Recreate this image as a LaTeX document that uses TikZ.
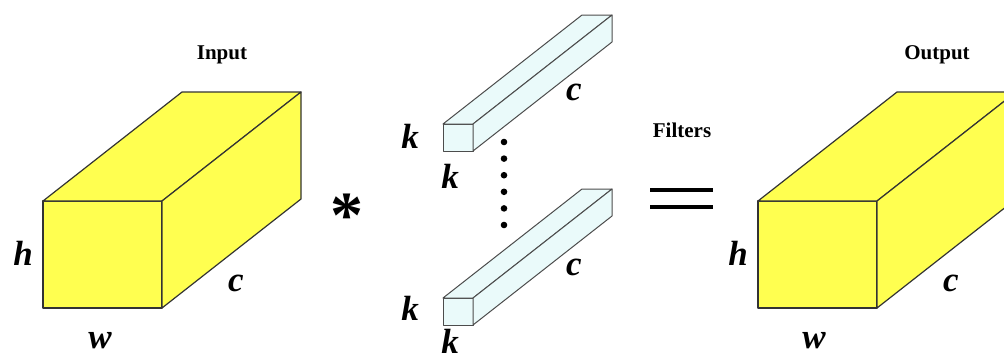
\documentclass[tikz,border=0pt]{standalone}
\usepackage{fontspec}
\setmainfont{Liberation Serif}
\definecolor{giallo}{RGB}{255,255,80}
\definecolor{ciano}{RGB}{234,250,250}
% parallelepipedo: x, y, larghezza, altezza, stile
\newcommand{\blocco}[5]{%
  \draw[#5] (#1,#2) rectangle ++(#3,#4);
  \draw[#5] (#1,#2) -- ++(139,-109) -- ++(#3,0) -- ++(-139,109) -- cycle;
  \draw[#5] (#1+#3,#2) -- ++(139,-109) -- ++(0,#4) -- ++(-139,109) -- cycle;
}
\begin{document}
\begin{tikzpicture}[x=1pt,y=-1pt,
    faccia/.style={draw=black!80,line width=1.2pt,line join=round},
    tensore/.style={faccia,fill=giallo},
    filtro/.style={faccia,draw=black!70,line width=1pt,fill=ciano},
    titolo/.style={font=\bfseries\fontsize{21}{21}\selectfont},
    lettera/.style={font=\bfseries\itshape\fontsize{35}{35}\selectfont}]
            % Cornice
            \useasboundingbox (0,0) rectangle (1004,360);
            \clip (0,0) rectangle (1004,360);
            % Input
            \blocco{43}{201}{119}{107}{tensore}
            \node[titolo] (input) at (222,55) {Input};
            \node[lettera] (hin) at (23,253) {h};
            \node[lettera] (win) at (100,341) {w};
            \node[lettera] (cin) at (236,283) {c};
            % Prodotto
            \node[font=\bfseries\fontsize{66}{66}\selectfont] (ast) at (347,216) {*};
            % Filtri
            \blocco{443}{124}{30}{27}{filtro}
            \blocco{443}{298}{30}{27}{filtro}
            \node[lettera] (ka) at (410,136) {k};
            \node[lettera] (kb) at (450,176) {k};
            \node[lettera] (ca) at (574,92) {c};
            \node[lettera] (kc) at (410,308) {k};
            \node[lettera] (kd) at (450,341) {k};
            \node[lettera] (cb) at (574,267) {c};
            \foreach \i in {0,...,5}
                \fill (504,142+16.6*\i) circle (3.3);
            \node[titolo] (filtri) at (682,130) {Filters};
            % Uguale
            \draw[line width=4pt] (650,190) -- (713,190);
            \draw[line width=4pt] (650,207) -- (713,207);
            % Output
            \blocco{758}{201}{119}{107}{tensore}
            \node[titolo] (output) at (937,55) {Output};
            \node[lettera] (hout) at (738,253) {h};
            \node[lettera] (wout) at (814,341) {w};
            \node[lettera] (cout) at (951,283) {c};
\end{tikzpicture}
\end{document}
